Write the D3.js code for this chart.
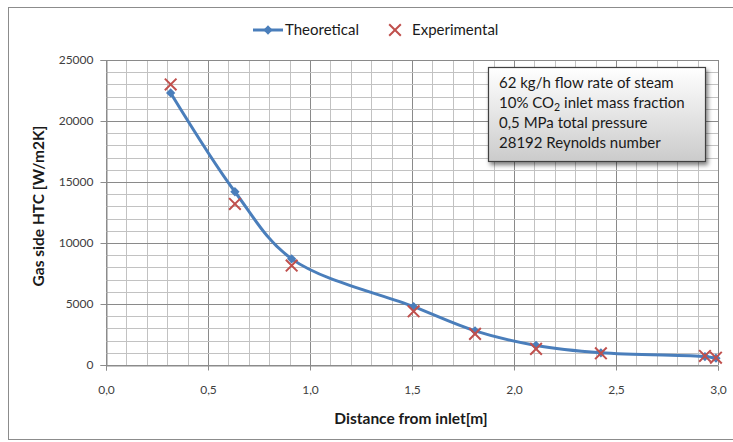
<!DOCTYPE html>
<html><head><meta charset="utf-8">
<script src="https://cdn.jsdelivr.net/npm/d3@7"></script>
<style>
html,body{margin:0;padding:0;background:#fff;}
svg{display:block;}
text{font-family:Lato,"Open Sans",sans-serif;}
</style></head>
<body>
<script>
// Data
const distances = [0.317, 0.632, 0.910, 1.508, 1.809, 2.108, 2.426, 2.936, 2.990];
const theoretical = [22300, 14200, 8700, 4780, 2800, 1600, 1000, 690, 560];
const experimental = [23000, 13200, 8150, 4400, 2550, 1320, 960, 740, 600];
const xTicks = [0, 0.5, 1.0, 1.5, 2.0, 2.5, 3.0];
const yTicks = [0, 5000, 10000, 15000, 20000, 25000];
const legendLabels = ["Theoretical", "Experimental"];
const noteLines = ["62 kg/h flow rate of steam", "10% CO|2| inlet mass fraction", "0,5 MPa total pressure", "28192 Reynolds number"];
const xTitle = "Distance from inlet[m]";
const yTitle = "Gas side HTC [W/m2K]";

const W = 733, H = 442;
const m = {left:106, top:60, right:733-718, bottom:442-365};
const svg = d3.select("body").append("svg").attr("width", W).attr("height", H);

const defs = svg.append("defs");
const grad = defs.append("linearGradient").attr("id","boxg").attr("x1",0).attr("y1",0).attr("x2",0).attr("y2",1);
grad.append("stop").attr("offset","0%").attr("stop-color","#ffffff");
grad.append("stop").attr("offset","100%").attr("stop-color","#cbcbcb");
const f = defs.append("filter").attr("id","sh").attr("x","-10%").attr("y","-10%").attr("width","130%").attr("height","140%");
f.append("feDropShadow").attr("dx",2).attr("dy",3).attr("stdDeviation",2).attr("flood-color","#000").attr("flood-opacity",0.5);

// outer chart border
svg.append("rect").attr("x",8.5).attr("y",7.5).attr("width",W).attr("height",432)
  .attr("fill","#fff").attr("stroke","#8c8c8c").attr("stroke-width",1);

const x = d3.scaleLinear().domain([0,3]).range([m.left, W-m.right]);
const y = d3.scaleLinear().domain([0,25000]).range([H-m.bottom, m.top]);

const g = svg.append("g");
// grid (minor every 0.1 / 1000, major every 0.5 / 5000)
const minorX = d3.range(0, 31).map(i=>i/10);
const minorY = d3.range(0, 26).map(i=>i*1000);
g.selectAll(".vmin").data(minorX).join("line")
  .attr("x1",d=>Math.round(x(d))+0.5).attr("x2",d=>Math.round(x(d))+0.5)
  .attr("y1",y(25000)).attr("y2",y(0))
  .attr("stroke",d=> (Math.abs(d*2-Math.round(d*2))<1e-6) ? "#8a8a8a" : "#c2c2c2").attr("stroke-width",1);
g.selectAll(".hmin").data(minorY).join("line")
  .attr("y1",d=>Math.round(y(d))+0.5).attr("y2",d=>Math.round(y(d))+0.5)
  .attr("x1",x(0)).attr("x2",x(3))
  .attr("stroke",d=> d%5000===0 ? "#8a8a8a" : "#c2c2c2").attr("stroke-width",1);

// axes
const xAxis = d3.axisBottom(x).tickValues(xTicks).tickSize(5).tickPadding(15)
  .tickFormat(d=>d3.format(".1f")(d).replace(".",","));
const gx = svg.append("g").attr("transform",`translate(0,${Math.round(y(0))+0.5})`).call(xAxis);
gx.select(".domain").attr("stroke","#8c8c8c");
gx.selectAll(".tick line").attr("stroke","#8c8c8c");
gx.selectAll(".tick text").attr("fill","#404040").attr("font-size",12);

const yAxis = d3.axisLeft(y).tickValues(yTicks).tickSize(6).tickPadding(7).tickFormat(d3.format("d"));
const gy = svg.append("g").attr("transform",`translate(${Math.round(x(0))+0.5},0)`).call(yAxis);
gy.select(".domain").attr("stroke","#8c8c8c");
gy.selectAll(".tick line").attr("stroke","#8c8c8c");
gy.selectAll(".tick text").attr("fill","#404040").attr("font-size",12);

// axis titles
svg.append("text").attr("x",411).attr("y",424).attr("text-anchor","middle")
  .attr("font-weight","bold").attr("font-size",15.5).attr("fill","#1a1a1a").text(xTitle);
svg.append("text").attr("transform","translate(44,206) rotate(-90)").attr("text-anchor","middle")
  .attr("font-weight","bold").attr("font-size",15.5).attr("fill","#1a1a1a").text(yTitle);

// theoretical line
const blue = "#4a7ebb", red = "#c0504d";
const pts = distances.map((d,i)=>[x(d), y(theoretical[i])]);
svg.append("path").datum(pts).attr("d", d3.line().curve(d3.curveCatmullRom.alpha(0.5)))
  .attr("fill","none").attr("stroke",blue).attr("stroke-width",3).attr("stroke-linecap","round");
const diamond = d3.symbol().type(d3.symbolDiamond2).size(55);
svg.selectAll(".dm").data(pts).join("path")
  .attr("transform",d=>`translate(${d[0]},${d[1]})`).attr("d",diamond()).attr("fill",blue);

// experimental X markers
const cross = d3.symbol().type(d3.symbolTimes).size(90);
svg.selectAll(".ex").data(distances).join("path")
  .attr("transform",(d,i)=>`translate(${x(d)},${y(experimental[i])})`).attr("d",cross())
  .attr("fill","none").attr("stroke",red).attr("stroke-width",2);

// legend
const lg = svg.append("g");
lg.append("line").attr("x1",253).attr("x2",283).attr("y1",30).attr("y2",30).attr("stroke",blue).attr("stroke-width",3);
lg.append("path").attr("transform","translate(268,30)").attr("d",diamond()).attr("fill",blue);
lg.append("text").attr("x",285).attr("y",35).attr("font-size",15).attr("fill","#1a1a1a").text(legendLabels[0]);
lg.append("path").attr("transform","translate(395,30)").attr("d",cross()).attr("fill","none").attr("stroke",red).attr("stroke-width",2);
lg.append("text").attr("x",412).attr("y",35).attr("font-size",15).attr("fill","#1a1a1a").text(legendLabels[1]);

// annotation box
const bx = 488, by = 67, bw = 217, bh = 94;
svg.append("rect").attr("x",bx+0.5).attr("y",by+0.5).attr("width",bw).attr("height",bh)
  .attr("fill","url(#boxg)").attr("stroke","#404040").attr("stroke-width",1.2).attr("filter","url(#sh)");
noteLines.forEach((s,i)=>{
  const t = svg.append("text").attr("x",499).attr("y",88+i*20).attr("font-size",15).attr("fill","#1a1a1a");
  const parts = s.split("|");
  parts.forEach((p,j)=>{
    if (j===1) t.append("tspan").attr("font-size",10.5).attr("dy",3).text(p);
    else if (j===2) t.append("tspan").attr("dy",-3).text(p);
    else t.append("tspan").text(p);
  });
});
</script>
</body></html>
